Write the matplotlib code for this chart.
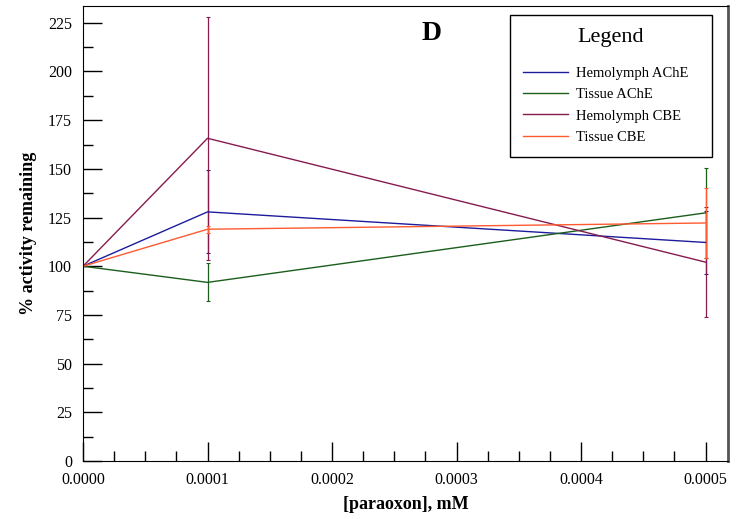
import matplotlib.pyplot as plt
from matplotlib.lines import Line2D
from matplotlib.ticker import MultipleLocator, FormatStrFormatter

plt.rcParams['font.family'] = ['Liberation Serif', 'DejaVu Serif']

# paraoxon concentrations (mM)
conc = [0.0, 0.0001, 0.0005]

hemo_ache = [100, 127.9, 112.2]
hemo_ache_err = [0, 21.3, 16.0]
tissue_ache = [100, 91.7, 127.4]
tissue_ache_err = [0, 9.7, 23.0]
hemo_cbe = [100, 165.7, 102.1]
hemo_cbe_err = [0, 62.4, 28.1]
tissue_cbe = [100, 119.0, 122.2]
tissue_cbe_err = [0, 1.8, 18.0]

series = [
    ("Hemolymph AChE", hemo_ache, hemo_ache_err, "#1c1c9c"),
    ("Tissue AChE", tissue_ache, tissue_ache_err, "#1b5e1b"),
    ("Hemolymph CBE", hemo_cbe, hemo_cbe_err, "#861c4e"),
    ("Tissue CBE", tissue_cbe, tissue_cbe_err, "#ff5a30"),
]

fig = plt.figure(figsize=(7.36, 5.19), dpi=100)
ax = fig.add_axes([0.1128, 0.1118, 0.8763, 0.8762])

handles = []
for name, vals, errs, col in series:
    ax.errorbar(conc, vals, yerr=errs, color=col, lw=1.0, elinewidth=0.9,
                capsize=1.5, capthick=0.8)
    handles.append(Line2D([], [], color=col, lw=1.0, label=name))

ax.set_xlim(0, 0.000518)
ax.set_ylim(0, 233.5)

ax.xaxis.set_major_locator(MultipleLocator(0.0001))
ax.xaxis.set_minor_locator(MultipleLocator(0.000025))
ax.xaxis.set_major_formatter(FormatStrFormatter('%.4f'))
ax.yaxis.set_major_locator(MultipleLocator(25))
ax.yaxis.set_minor_locator(MultipleLocator(12.5))

ax.tick_params(which='both', direction='in', top=False, right=False,
               labelsize=11.5, width=1.0)
ax.tick_params(which='major', length=14, pad=8)
ax.tick_params(which='minor', length=7)

ax.spines['right'].set_color('#555555')
ax.spines['right'].set_linewidth(2)

ax.set_xlabel("[paraoxon], mM", fontsize=13, fontweight='bold', labelpad=6)
ax.set_ylabel("% activity remaining", fontsize=13, fontweight='bold', labelpad=8)

ax.text(0.541, 0.94, "D", transform=ax.transAxes, fontsize=20,
        fontweight='bold', ha='center', va='center')

leg = ax.legend(handles=handles, loc='upper left',
                bbox_to_anchor=(0.662, 0.670, 0.313, 0.310), mode='expand',
                borderaxespad=0, title="Legend", fontsize=10.5,
                title_fontsize=16, fancybox=False, framealpha=1,
                edgecolor='black', handlelength=3.1, borderpad=0.9,
                labelspacing=0.55, handletextpad=0.55)
leg.get_frame().set_linewidth(1.0)
leg._legend_box.sep = 14

fig.savefig("out.png", dpi=100)
